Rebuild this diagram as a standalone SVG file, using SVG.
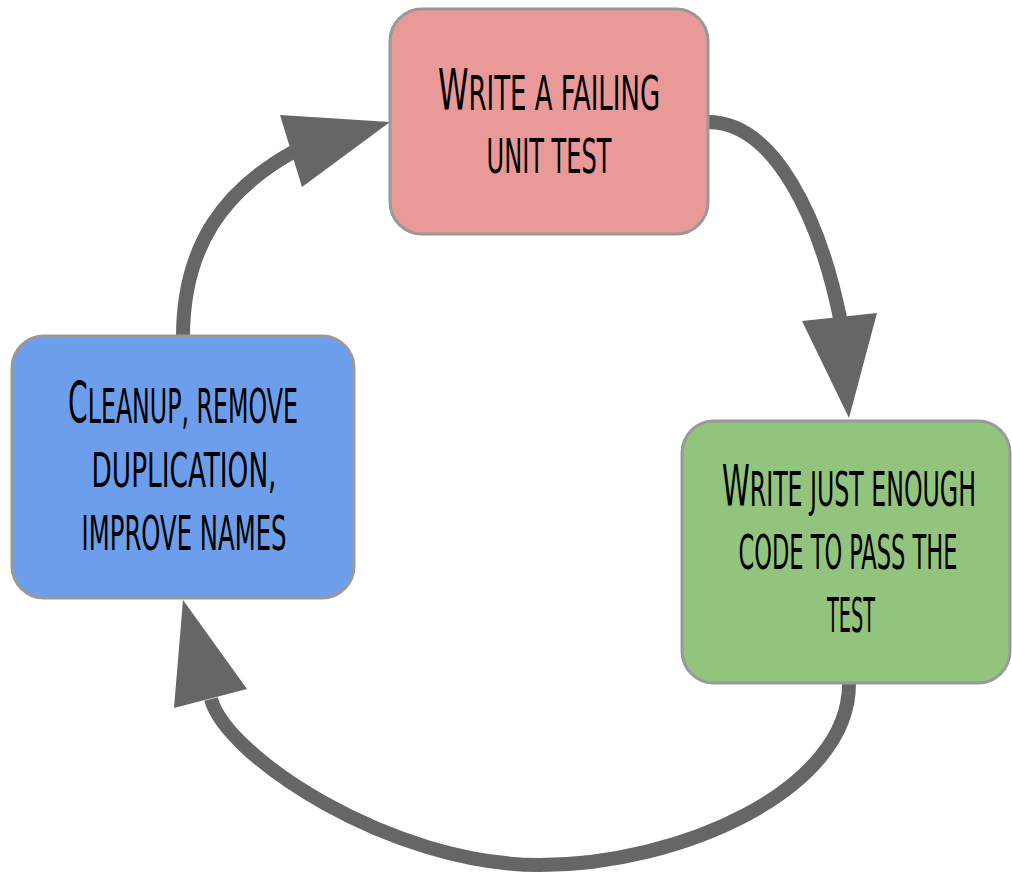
<svg xmlns="http://www.w3.org/2000/svg" width="1012" height="881" viewBox="0 0 1012 881">
<style>
.box{stroke:#999999;stroke-width:3}
.red{fill:#EA9999}
.blue{fill:#6D9EEB}
.green{fill:#93C47D}
.lbl{font-family:"Liberation Sans Narrow","DejaVu Sans Condensed","Liberation Sans",sans-serif;font-size:48px;font-weight:normal;fill:#000;text-anchor:middle}
.big{font-size:57px}
.edge{fill:none;stroke:#666666;stroke-width:14}
.head{fill:#666666}
</style>
<rect width="1012" height="881" fill="#ffffff"/>
<g id="connectors">
<path class="edge" d="M183,337 C183,245 225,190 293,152"/>
<polygon class="head" points="390,122 280,115 302,187"/>
<path class="edge" d="M708,122 C775,122 820,220 840,318"/>
<polygon class="head" points="849,418 802,321 877,313"/>
<path class="edge" d="M849,684 C849,790 680,865 540,865 C390,865 226,756 211,699"/>
<polygon class="head" points="183,600 174,708 247,689"/>
</g>
<g id="node-write-test">
<rect class="box red" x="390" y="9" width="318" height="225" rx="32" ry="32"/>
<text class="lbl" x="549" y="110" textLength="222" lengthAdjust="spacingAndGlyphs"><tspan class="big">W</tspan>RITE A FAILING</text>
<text class="lbl" x="549" y="173" textLength="125" lengthAdjust="spacingAndGlyphs">UNIT TEST</text>
</g>
<g id="node-write-code">
<rect class="box green" x="682" y="421" width="328" height="262" rx="32" ry="32"/>
<text class="lbl" x="849" y="506" textLength="254" lengthAdjust="spacingAndGlyphs"><tspan class="big">W</tspan>RITE JUST ENOUGH</text>
<text class="lbl" x="848" y="569" textLength="219" lengthAdjust="spacingAndGlyphs">CODE TO PASS THE</text>
<text class="lbl" x="851" y="632" textLength="48" lengthAdjust="spacingAndGlyphs">TEST</text>
</g>
<g id="node-cleanup">
<rect class="box blue" x="12" y="336" width="342" height="262" rx="32" ry="32"/>
<text class="lbl" x="183" y="423" textLength="230" lengthAdjust="spacingAndGlyphs"><tspan class="big">C</tspan>LEANUP, REMOVE</text>
<text class="lbl" x="184" y="487" textLength="185" lengthAdjust="spacingAndGlyphs">DUPLICATION,</text>
<text class="lbl" x="184" y="550" textLength="205" lengthAdjust="spacingAndGlyphs">IMPROVE NAMES</text>
</g>
</svg>
